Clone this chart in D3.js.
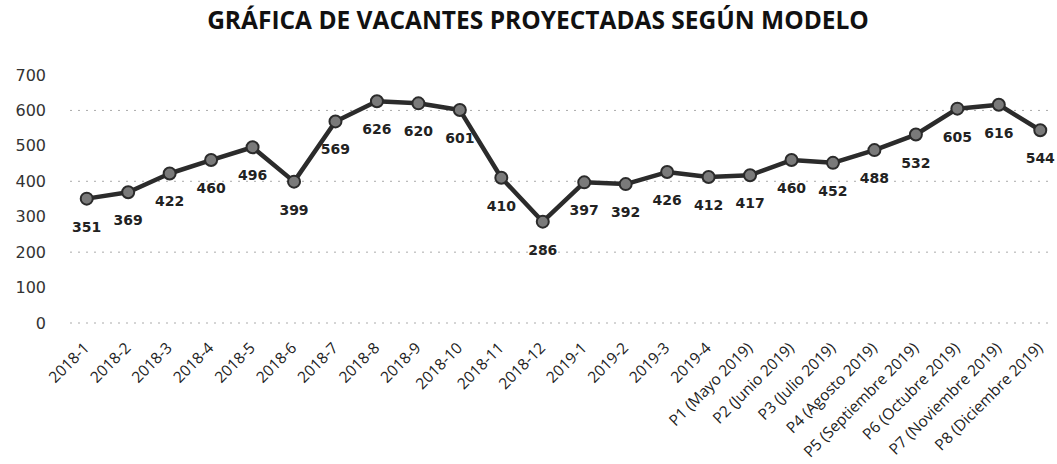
<!DOCTYPE html>
<html>
<head>
<meta charset="utf-8">
<script src="https://cdn.jsdelivr.net/npm/d3@7"></script>
<style>
  body { margin: 0; background: #fff; }
  svg { display: block; }
</style>
</head>
<body>
<div id="chartDiv"></div>
<script>
const w = 1057;
const h = 464;

// data
const categories = [
  "2018-1", "2018-2", "2018-3", "2018-4", "2018-5", "2018-6",
  "2018-7", "2018-8", "2018-9", "2018-10", "2018-11", "2018-12",
  "2019-1", "2019-2", "2019-3", "2019-4",
  "P1 (Mayo 2019)", "P2 (Junio 2019)", "P3 (Julio 2019)", "P4 (Agosto 2019)",
  "P5 (Septiembre 2019)", "P6 (Octubre 2019)", "P7 (Noviembre 2019)", "P8 (Diciembre 2019)"
];
const vacantes = [
  351, 369, 422, 460, 496, 399, 569, 626, 620, 601, 410, 286,
  397, 392, 426, 412, 417, 460, 452, 488, 532, 605, 616, 544
];
const yTicks = [0, 100, 200, 300, 400, 500, 600, 700];
const gridTicks = [0, 200, 400, 600];
const title = "GRÁFICA DE VACANTES PROYECTADAS SEGÚN MODELO";

const svg = d3.select("#chartDiv")
  .append("svg")
  .attr("width", w)
  .attr("height", h);

const xScale = d3.scalePoint().domain(categories).range([66, 1061]).padding(0.5);
const yScale = d3.scaleLinear().domain([0, 700]).range([323, 75]);

// title
svg.append("text")
  .attr("x", 538)
  .attr("y", 29)
  .attr("text-anchor", "middle")
  .attr("font-family", "'Open Sans', sans-serif")
  .attr("font-weight", "bold")
  .attr("font-size", "24.5px")
  .attr("fill", "#111")
  .text(title);

// dotted grid
svg.append("g")
  .selectAll("line")
  .data(gridTicks)
  .enter()
  .append("line")
  .attr("x1", 70)
  .attr("x2", 1052)
  .attr("y1", d => yScale(d))
  .attr("y2", d => yScale(d))
  .attr("stroke", "#aaa")
  .attr("stroke-width", 1)
  .attr("stroke-dasharray", "2,6");

// y axis
const yAxis = d3.axisLeft(yScale).tickValues(yTicks).tickSize(0).tickPadding(0);
const gy = svg.append("g")
  .attr("transform", "translate(46, 0)")
  .call(yAxis);
gy.select(".domain").remove();
gy.selectAll("text")
  .attr("font-family", "'DejaVu Sans', sans-serif")
  .attr("font-size", "16px")
  .attr("fill", "#333");

// x axis
const xAxis = d3.axisBottom(xScale).tickSize(0).tickPadding(0);
const gx = svg.append("g")
  .attr("transform", "translate(0, 323)")
  .call(xAxis);
gx.select(".domain").remove();
gx.selectAll("text")
  .attr("font-family", "'Open Sans', sans-serif")
  .attr("font-size", "15.5px")
  .attr("fill", "#222")
  .attr("text-anchor", "end")
  .attr("dy", 0)
  .attr("transform", "translate(3, 26) rotate(-45)");

// line
const line = d3.line()
  .x((d, i) => xScale(categories[i]))
  .y(d => yScale(d));

svg.append("path")
  .datum(vacantes)
  .attr("d", line)
  .attr("fill", "none")
  .attr("stroke", "#2b2b2b")
  .attr("stroke-width", 4.5)
  .attr("stroke-linejoin", "round");

// markers
svg.append("g")
  .selectAll("circle")
  .data(vacantes)
  .enter()
  .append("circle")
  .attr("cx", (d, i) => xScale(categories[i]))
  .attr("cy", d => yScale(d))
  .attr("r", 6)
  .attr("fill", "#7a7a7a")
  .attr("stroke", "#2b2b2b")
  .attr("stroke-width", 2);

// value labels under the points
svg.append("g")
  .selectAll("text")
  .data(vacantes)
  .enter()
  .append("text")
  .attr("x", (d, i) => xScale(categories[i]))
  .attr("y", d => yScale(d) + 33)
  .attr("text-anchor", "middle")
  .attr("font-family", "'DejaVu Sans', sans-serif")
  .attr("font-weight", "bold")
  .attr("font-size", "14px")
  .attr("fill", "#222")
  .text(d => d);
</script>
</body>
</html>
